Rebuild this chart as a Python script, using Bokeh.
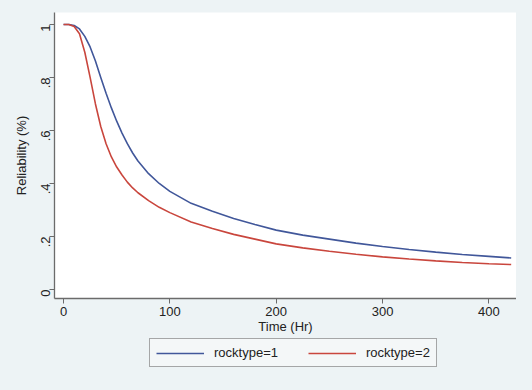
from bokeh.plotting import figure
from bokeh.models import Range1d, FixedTicker, Legend, LegendItem
from bokeh.layouts import column
from bokeh.embed import file_html
from bokeh.resources import INLINE
import math

# Time (Hr) points
time_pts = [0, 5, 10, 15, 20, 25, 30, 35, 40, 45, 50, 55, 60, 65, 70, 80, 90, 100,
            120, 140, 160, 180, 200, 225, 250, 275, 300, 325, 350, 375, 400, 421]
# rocktype=1 reliability
rel_rock1 = [1.0, 1.0, 0.996, 0.983, 0.955, 0.915, 0.862, 0.80, 0.74, 0.685, 0.635,
             0.59, 0.55, 0.515, 0.485, 0.437, 0.40, 0.37, 0.325, 0.295, 0.268, 0.245,
             0.224, 0.205, 0.19, 0.175, 0.162, 0.151, 0.141, 0.132, 0.125, 0.119]
# rocktype=2 reliability
rel_rock2 = [1.0, 1.0, 0.992, 0.965, 0.895, 0.80, 0.70, 0.615, 0.55, 0.50, 0.462,
             0.432, 0.405, 0.383, 0.365, 0.335, 0.31, 0.29, 0.255, 0.23, 0.208, 0.19,
             0.172, 0.157, 0.144, 0.133, 0.123, 0.115, 0.108, 0.102, 0.097, 0.094]

series_labels = ["rocktype=1", "rocktype=2"]
x_ticks = [0, 100, 200, 300, 400]
y_ticks = [0, 0.2, 0.4, 0.6, 0.8, 1.0]
y_tick_labels = {0: "0", 0.2: ".2", 0.4: ".4", 0.6: ".6", 0.8: ".8", 1.0: "1"}

FONT = "Liberation Sans"
AXIS_COLOR = "#6b6b6b"
BG = "#edf3f5"
BLUE = "#41579a"
RED = "#c9463d"

p = figure(width=516, height=336, output_backend="svg", toolbar_location=None,
           x_range=Range1d(-8.5, 426), y_range=Range1d(-0.034, 1.045),
           min_border_left=54, min_border_right=0, min_border_top=12,
           min_border_bottom=36)

p.background_fill_color = "white"
p.border_fill_color = BG
p.outline_line_color = None
p.grid.visible = False

p.line(time_pts, rel_rock1, line_color=BLUE, line_width=1.6)
p.line(time_pts, rel_rock2, line_color=RED, line_width=1.6)

for ax in (p.xaxis[0], p.yaxis[0]):
    ax.axis_line_color = AXIS_COLOR
    ax.axis_line_width = 1.3
    ax.major_tick_line_color = AXIS_COLOR
    ax.major_tick_out = 5
    ax.major_tick_in = 0
    ax.minor_tick_line_color = None
    ax.major_label_text_font = FONT
    ax.major_label_text_font_size = "13px"
    ax.major_label_text_color = "#222222"
    ax.axis_label_text_font = FONT
    ax.axis_label_text_font_size = "13px"
    ax.axis_label_text_font_style = "normal"
    ax.axis_label_text_color = "#222222"

p.xaxis.ticker = FixedTicker(ticks=x_ticks)
p.xaxis.axis_label = "Time (Hr)"
p.xaxis.major_label_standoff = 3
p.xaxis.axis_label_standoff = 0

p.yaxis.ticker = FixedTicker(ticks=y_ticks)
p.yaxis.major_label_overrides = y_tick_labels
p.yaxis.major_label_orientation = math.pi / 2
p.yaxis.axis_label = "Reliability (%)"
p.yaxis.major_label_standoff = 4
p.yaxis.axis_label_standoff = 5

# Legend strip below the chart (its sample lines lie outside the strip's ranges)
p2 = figure(width=516, height=38, output_backend="svg", toolbar_location=None,
            x_range=Range1d(0, 1), y_range=Range1d(0, 1),
            min_border_left=0, min_border_right=0, min_border_top=0,
            min_border_bottom=0)
p2.axis.visible = False
p2.grid.visible = False
p2.outline_line_color = None
p2.background_fill_color = BG
p2.border_fill_color = BG
l1 = p2.line(x=[-5, -4], y=[-5, -4], line_color=BLUE, line_width=1.6)
l2 = p2.line(x=[-5, -4], y=[-5, -4], line_color=RED, line_width=1.6)

legend = Legend(items=[LegendItem(label=series_labels[0], renderers=[l1]),
                       LegendItem(label=series_labels[1], renderers=[l2])],
                orientation="horizontal", location=(95, 7))
legend.label_text_font = FONT
legend.label_text_font_size = "13px"
legend.label_text_color = "#222222"
legend.glyph_width = 48
legend.glyph_height = 14
legend.spacing = 30
legend.padding = 6
legend.margin = 0
legend.label_standoff = 10
legend.border_line_color = "#555555"
legend.border_line_width = 1.3
legend.background_fill_color = "#f4f7f8"
p2.add_layout(legend)

layout = column(p, p2, spacing=0)

html = file_html(layout, INLINE)
html = html.replace("<head>", "<head><style>body{background:#edf3f5;}</style>", 1)
open("out.html", "w").write(html)
